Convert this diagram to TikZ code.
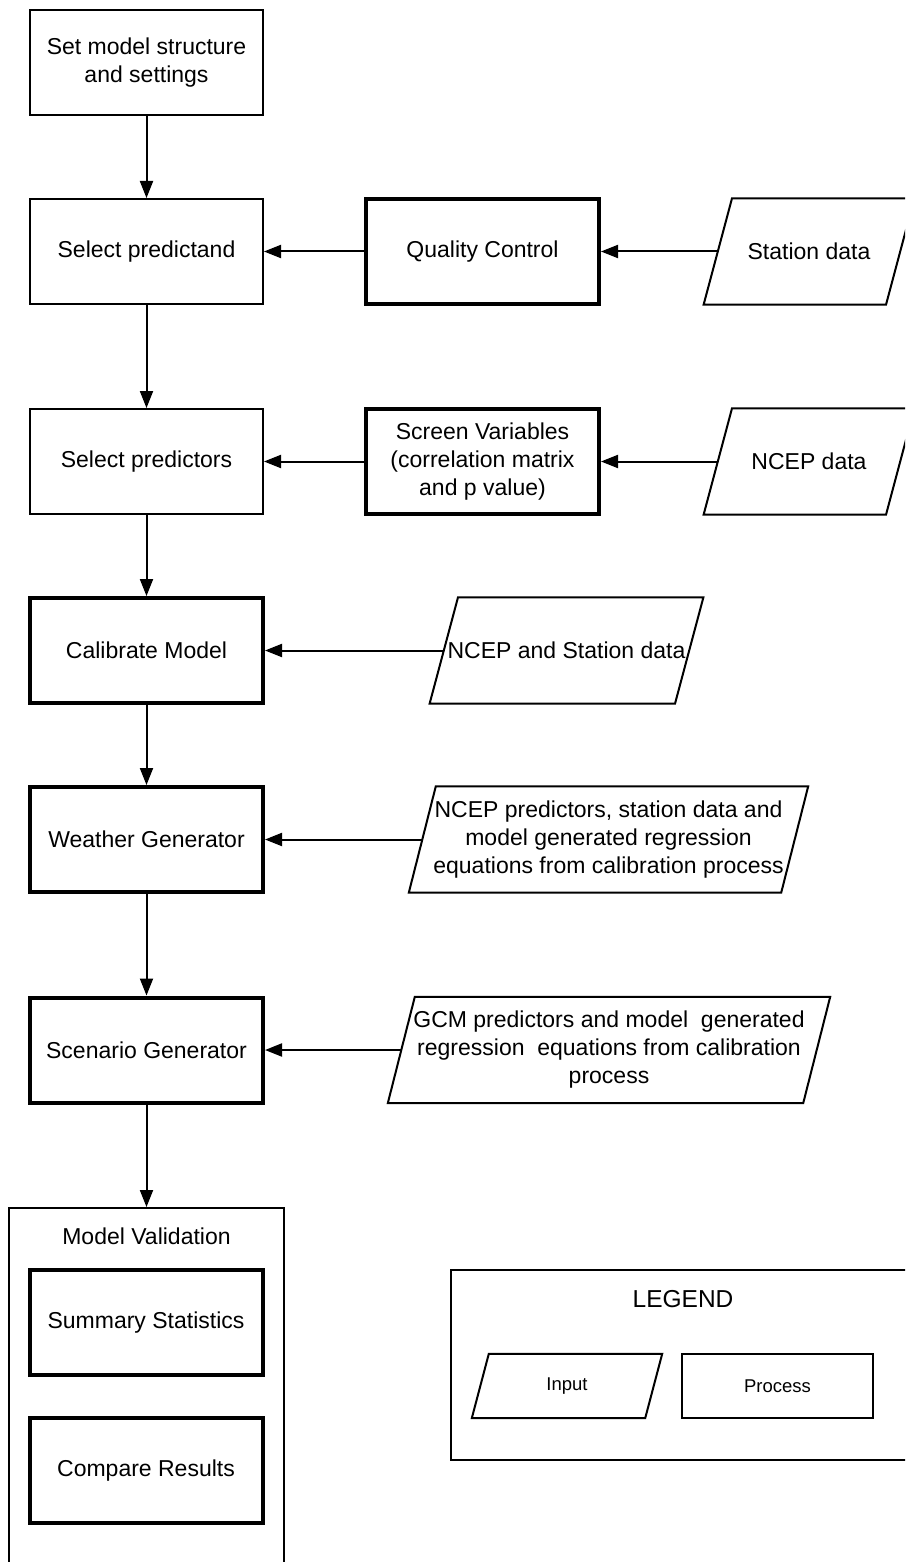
\documentclass[tikz,border=0pt]{standalone}
\usepackage{fontspec}
\setmainfont{Liberation Sans}
\usetikzlibrary{arrows.meta}

% Parallelogramme autour d'un noeud (decalage du haut et du bas)
\newcommand{\parallelo}[2][14.2pt]{%
  \draw[line width=2pt] ([xshift=-#1]#2.south west) -- ([xshift=-#1]#2.south east)
    -- ([xshift=#1]#2.north east) -- ([xshift=#1]#2.north west) -- cycle;}

\begin{document}
\begin{tikzpicture}[x=1pt,y=-1pt,
  texte/.style={font=\fontsize{23}{28}\selectfont, align=center},
  procbox/.style={texte, draw, rectangle, line width=2pt, minimum width=233pt, minimum height=105pt, inner sep=0pt},
  procthick/.style={procbox, line width=4pt},
  inputbox/.style={texte, rectangle, minimum height=106pt, inner sep=0pt},
  fleche/.style={line width=2pt, -{Triangle[length=17pt,width=13pt]}}]

% Cadre de la page
\useasboundingbox (0,0) rectangle (905,1562);
\fill[white] (0,0) rectangle (905,1562);
\clip (0,0) rectangle (905,1562);

% Colonne principale
\node[procbox] (structure) at (146.5,63) {Set model structure\\and settings};
\node[procbox] (predictand) at (146.5,251.5) {Select predictand};
\node[procbox] (predictors) at (146.5,461.5) {Select predictors};
\node[procthick] (calibrate) at (146.5,650.5) {Calibrate Model};
\node[procthick] (weather) at (146.5,839.5) {Weather Generator};
\node[procthick] (scenario) at (146.5,1050) {Scenario Generator};

% Traitements intermediaires
\node[procthick] (qualite) at (482.5,251.5) {Quality Control};
\node[procthick] (screen) at (482.5,461.5) {Screen Variables\\(correlation matrix\\and p value)};

% Donnees d'entree
\node[inputbox, minimum width=182pt] (station) at (809,251.5) {Station data};
\node[inputbox, minimum width=182pt] (ncep) at (809,461.5) {NCEP data};
\node[inputbox, minimum width=245pt] (ncepstation) at (566.5,650.5) {NCEP and Station data};
\node[inputbox, minimum width=372pt] (weatherin) at (608.5,839.5) {NCEP predictors, station data and\\model generated regression\\equations from calibration process};
\node[inputbox, minimum width=415pt] (scenarioin) at (609,1050) {GCM predictors and model\ \ generated\\regression\ \ equations from calibration\\process};
\parallelo{station}
\parallelo{ncep}
\parallelo{ncepstation}
\parallelo[13.5pt]{weatherin}
\parallelo[13.5pt]{scenarioin}

% Validation du modele
\node[draw, line width=2pt, minimum width=275pt, minimum height=400pt, anchor=north] (validation) at (146.5,1207) {};
\node[texte] (validtitre) at (146.5,1236) {Model Validation};
\node[procthick] (summary) at (146,1322.5) {Summary Statistics};
\node[procthick] (compare) at (146,1470.5) {Compare Results};

% Legende
\node[draw, line width=2pt, minimum width=461pt, minimum height=190pt] (legende) at (681.5,1365) {};
\node[font=\fontsize{24.5}{29}\selectfont] (legendtitre) at (683,1299) {LEGEND};
\node[inputbox, minimum width=173pt, minimum height=64pt, font=\fontsize{18.5}{22}\selectfont] (legin) at (567,1386) {Input};
\parallelo[8.5pt]{legin}
\node[procbox, minimum width=191pt, minimum height=64pt, font=\fontsize{18.5}{22}\selectfont] (legproc) at (777.5,1386) {Process};

% Fleches verticales
\draw[fleche] (structure) -- (predictand);
\draw[fleche] (predictand) -- (predictors);
\draw[fleche] (predictors) -- (calibrate);
\draw[fleche] (calibrate) -- (weather);
\draw[fleche] (weather) -- (scenario);
\draw[fleche] (scenario) -- (validation.north);

% Fleches horizontales
\draw[fleche] (station) -- (qualite);
\draw[fleche] (qualite) -- (predictand);
\draw[fleche] (ncep) -- (screen);
\draw[fleche] (screen) -- (predictors);
\draw[fleche] (ncepstation) -- (calibrate);
\draw[fleche] (weatherin) -- (weather);
\draw[fleche] (scenarioin) -- (scenario);

\end{tikzpicture}
\end{document}
